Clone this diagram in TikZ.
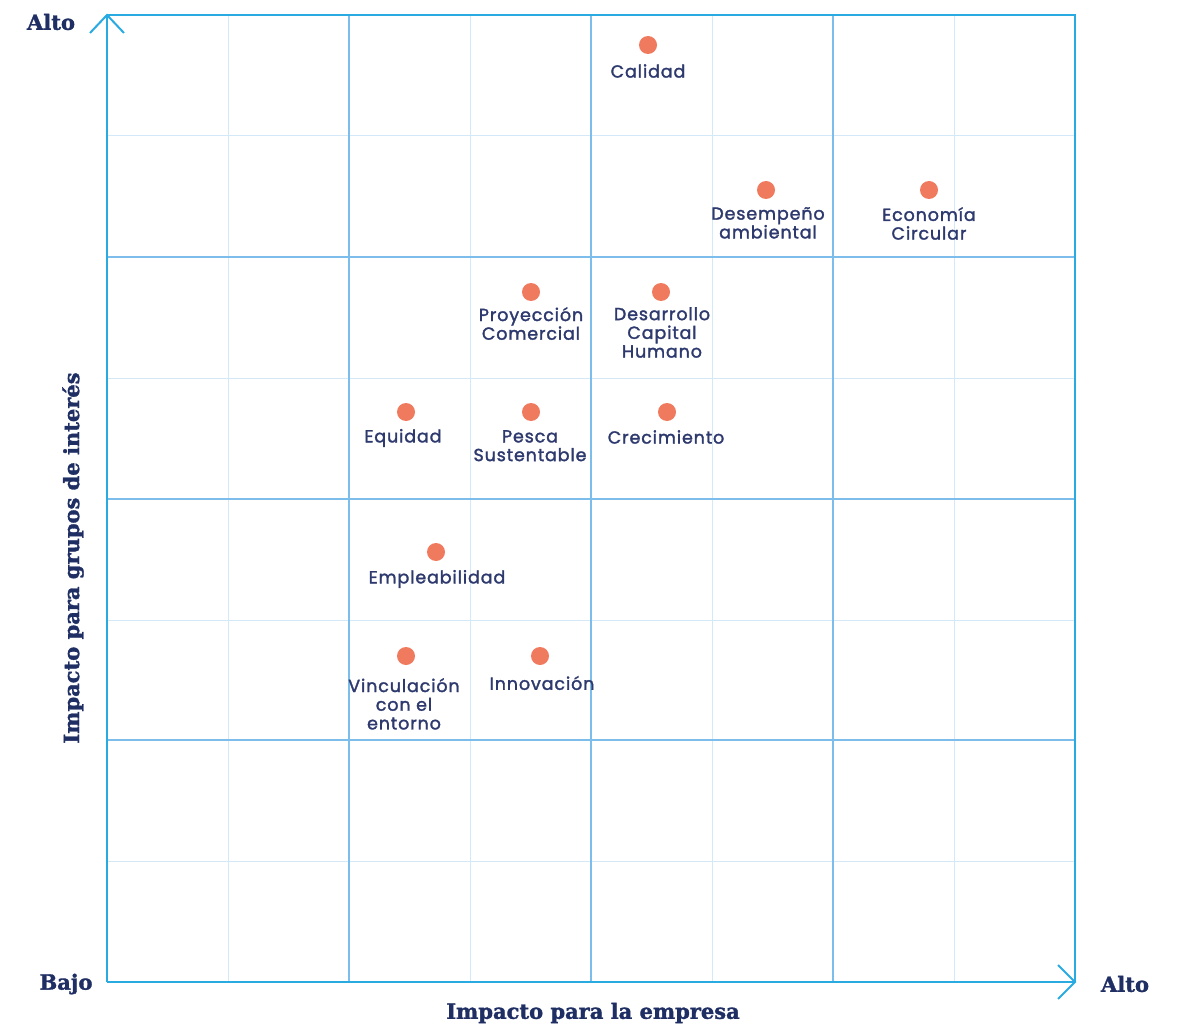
\documentclass[tikz,border=0pt]{standalone}
\usepackage{fontspec}
\newfontfamily\labfont{Poppins}[FakeBold=1.8,LetterSpace=5]
\newfontfamily\axfont{DejaVu Serif}[BoldFeatures={FakeBold=1.5}]
\definecolor{axisblue}{HTML}{29ABE2}
\definecolor{majorblue}{HTML}{7CBDEB}
\definecolor{minorblue}{HTML}{D3E9F8}
\definecolor{navy}{HTML}{2E3A6E}
\definecolor{darknavy}{HTML}{1F2E63}
\definecolor{dotred}{HTML}{F07A5E}
\begin{document}
\begin{tikzpicture}[x=1pt,y=-1pt,
  dot/.style={circle,fill=dotred,inner sep=0pt,minimum size=18pt},
  lab/.style={font=\labfont\fontsize{17.5}{18.7}\selectfont,text=navy,align=center,inner sep=0pt},
  axlab/.style={font=\axfont\bfseries\fontsize{21}{24}\selectfont,text=darknavy,inner sep=0pt},
  minor/.style={minorblue,line width=1pt},
  major/.style={majorblue,line width=2pt},
  axis/.style={axisblue,line width=2pt}]
\useasboundingbox (0,0) rectangle (1181,1027);
% minor grid
\foreach \v in {228,470,712,954} \draw[minor] (\v,15) -- (\v,982);
\foreach \v in {136,378,620,861} \draw[minor] (107,\v) -- (1075,\v);
% major grid
\foreach \v in {349,591,833} \draw[major] (\v,15) -- (\v,982);
\foreach \v in {257,499,740} \draw[major] (107,\v) -- (1075,\v);
% border
\coordinate (tl) at (107,15);
\coordinate (tr) at (1075,15);
\coordinate (bl) at (107,982);
\coordinate (br) at (1075,982);
\draw[axis] (tl) -- (tr) -- (br);
\draw[axis] (bl) -- (tl);
\draw[axis] (bl) -- (br);
\draw[axis] (90,33) -- (tl) -- (124,33);
\draw[axis] (1058,965) -- (br) -- (1058,999);
% axis labels
\node[axlab] (altoy) at (51,22) {Alto};
\node[axlab] (bajo) at (66,984) {Bajo};
\node[axlab] (altox) at (1125,984) {Alto};
\node[axlab] (xlab) at (593,1013) {Impacto para la empresa};
\node[axlab,rotate=90] (ylab) at (73,558) {Impacto para grupos de interés};
% points
\node[dot] (calidad) at (648,45) {};
\node[lab] (calidadl) at (648,71) {Calidad};
\node[dot] (desemp) at (766,190) {};
\node[lab,anchor=north] (desempl) at (768,207) {Desempeño\\ambiental};
\node[dot] (econ) at (929,190) {};
\node[lab,anchor=north] (econl) at (929,207) {Economía\\Circular};
\node[dot] (proy) at (531,292) {};
\node[lab,anchor=north] (proyl) at (531,307) {Proyección\\Comercial};
\node[dot] (desarr) at (661,292) {};
\node[lab,anchor=north] (desarrl) at (662,307) {Desarrollo\\Capital\\Humano};
\node[dot] (equidad) at (406,412) {};
\node[lab] (equidadl) at (403,438) {Equidad};
\node[dot] (pesca) at (531,412) {};
\node[lab,anchor=north] (pescal) at (530,430) {Pesca\\Sustentable};
\node[dot] (crec) at (667,412) {};
\node[lab] (crecl) at (666,437) {Crecimiento};
\node[dot] (emple) at (436,552) {};
\node[lab] (emplel) at (437,579) {Empleabilidad};
\node[dot] (vinc) at (406,656) {};
\node[lab,anchor=north] (vincl) at (404,678) {Vinculación\\con el\\entorno};
\node[dot] (innov) at (540,656) {};
\node[lab] (innovl) at (542,683) {Innovación};
\end{tikzpicture}
\end{document}
